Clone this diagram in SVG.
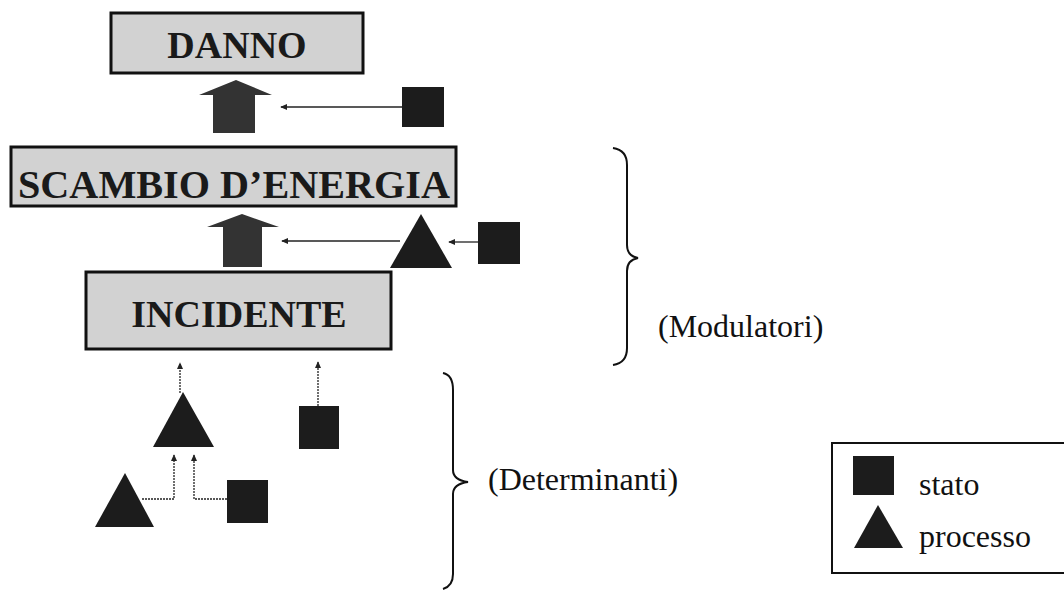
<svg xmlns="http://www.w3.org/2000/svg" width="1064" height="590" viewBox="0 0 1064 590">
<style>
.box{fill:#d2d2d2;stroke:#111;stroke-width:3}
.title{font-family:"Liberation Serif",serif;font-weight:bold;fill:#1a1a1a;text-anchor:middle}
.lbl{font-family:"Liberation Serif",serif;font-size:32px;fill:#111}
.shape{fill:#1c1c1c}
.big{fill:#333}
.conn{fill:none;stroke:#222;stroke-width:1.3}
.dot{fill:none;stroke:#222;stroke-width:1.3;stroke-dasharray:2 1}
.brace{fill:none;stroke:#111;stroke-width:2}
</style>
<defs>
<marker id="ah" viewBox="0 0 8 8" refX="7" refY="4" markerWidth="7" markerHeight="7" orient="auto" markerUnits="userSpaceOnUse">
<path d="M0,0.5 L8,4 L0,7.5 Z" fill="#222"/>
</marker>
</defs>
<rect width="1064" height="590" fill="#fff"/>

<g id="danno">
<rect class="box" x="111" y="13" width="252" height="60"/>
<text class="title" x="237" y="58" font-size="38">DANNO</text>
</g>
<g id="scambio">
<rect class="box" x="11" y="147" width="445" height="59"/>
<text class="title" x="234" y="198" font-size="40" textLength="432" lengthAdjust="spacingAndGlyphs">SCAMBIO D’ENERGIA</text>
</g>
<g id="incidente">
<rect class="box" x="86" y="272" width="305" height="77"/>
<text class="title" x="239" y="327" font-size="38">INCIDENTE</text>
</g>

<g id="arrow-danno">
<path class="big" d="M236,80 L272,95 L255,95 L255,133 L213,133 L213,95 L199,95 Z"/>
</g>
<g id="arrow-scambio">
<path class="big" d="M242,214 L279,227 L262,227 L262,267 L223,267 L223,227 L207,227 Z"/>
</g>

<g id="stato-top"><rect class="shape" x="402" y="87" width="42" height="40"/></g>
<g id="processo-mod"><path class="shape" d="M421,214 L452,268 L390,268 Z"/></g>
<g id="stato-mod"><rect class="shape" x="478" y="222" width="42" height="42"/></g>
<g id="processo-det1"><path class="shape" d="M183,392 L214,447 L153,447 Z"/></g>
<g id="stato-det1"><rect class="shape" x="299" y="406" width="40" height="43"/></g>
<g id="processo-det2"><path class="shape" d="M125,473 L154,527 L95,527 Z"/></g>
<g id="stato-det2"><rect class="shape" x="227" y="480" width="41" height="43"/></g>

<g id="connectors">
<line class="conn" x1="402" y1="107" x2="281" y2="107" marker-end="url(#ah)"/>
<line class="conn" x1="400" y1="241" x2="282" y2="241" marker-end="url(#ah)"/>
<line class="conn" x1="478" y1="242" x2="449" y2="242" marker-end="url(#ah)"/>
<line class="dot" x1="180" y1="393" x2="180" y2="363" marker-end="url(#ah)"/>
<line class="dot" x1="318" y1="406" x2="318" y2="362" marker-end="url(#ah)"/>
<polyline class="dot" points="142,499 174,499 174,455" marker-end="url(#ah)"/>
<polyline class="dot" points="227,499 194,499 194,455" marker-end="url(#ah)"/>
</g>

<g id="brace-modulatori">
<path class="brace" d="M613,148 Q627,150 627,165 L627,245 Q627,256 638,258 Q627,260 627,271 L627,348 Q627,363 613,365"/>
<text class="lbl" x="658" y="337">(Modulatori)</text>
</g>
<g id="brace-determinanti">
<path class="brace" d="M443,373 Q453,375 453,390 L453,470 Q453,480 468,482 Q453,484 453,494 L453,574 Q453,586 443,589"/>
<text class="lbl" x="488" y="490">(Determinanti)</text>
</g>

<g id="legend">
<rect x="832" y="443" width="240" height="130" fill="none" stroke="#111" stroke-width="2"/>
<rect class="shape" x="853" y="456" width="41" height="39"/>
<path class="shape" d="M878,505 L903,548 L854,548 Z"/>
<text class="lbl" x="919" y="495">stato</text>
<text class="lbl" x="919" y="547">processo</text>
</g>
</svg>
